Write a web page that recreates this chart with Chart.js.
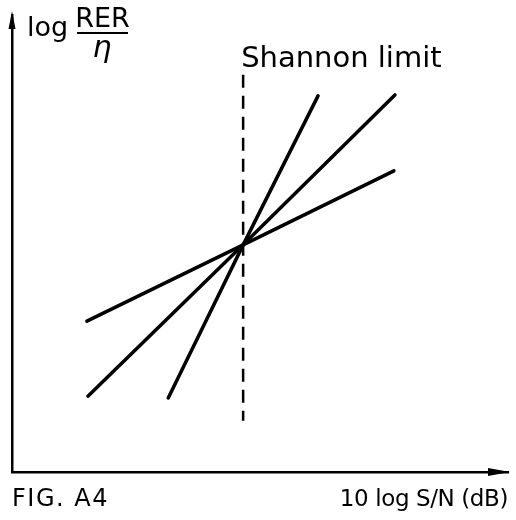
<!DOCTYPE html>
<html>
<head>
<meta charset="utf-8">
<script src="https://cdn.jsdelivr.net/npm/chart.js@4.4.1/dist/chart.umd.min.js"></script>
<style>
  html, body { margin: 0; padding: 0; background: #fff; }
  #wrap { width: 516px; height: 520px; }
</style>
</head>
<body>
<div id="wrap"><canvas id="chartFig"></canvas></div>
<script>
// valores (unidades arbitrarias 0..10)
const shannonX = 4.66;
const shannonY = [8.69, 1.12];

const lineaSuave = [[1.51, 3.30], [4.66, 4.97], [7.70, 6.59]];
const lineaMedia = [[1.53, 1.66], [4.66, 4.97], [7.72, 8.25]];
const lineaEmpinada = [[3.15, 1.62], [4.66, 4.97], [6.17, 8.23]];

const tituloShannon = "Shannon limit";
const etiquetaX = "10 log S/N (dB)";
const etiquetaFig = "FIG. A4";

const FUENTE = "DejaVu Sans";

function puntos(arr) {
    return arr.map(p => ({ x: p[0], y: p[1] }));
}

// flechas y textos
const textosPlugin = {
    id: "textos",
    afterDraw(chart) {
        const ctx = chart.ctx;
        const a = chart.chartArea;
        const sx = chart.scales.x;
        ctx.save();
        ctx.fillStyle = "#000";
        ctx.strokeStyle = "#000";

        // flecha eje y
        ctx.beginPath();
        ctx.moveTo(a.left, a.top - 4);
        ctx.lineTo(a.left - 3.5, a.top + 14);
        ctx.lineTo(a.left + 3.5, a.top + 14);
        ctx.closePath();
        ctx.fill();

        // flecha eje x
        ctx.beginPath();
        ctx.moveTo(a.right + 2, a.bottom);
        ctx.lineTo(a.right - 20, a.bottom - 4);
        ctx.lineTo(a.right - 20, a.bottom + 4);
        ctx.closePath();
        ctx.fill();

        ctx.textBaseline = "alphabetic";

        // log RER / eta
        ctx.font = "27px '" + FUENTE + "'";
        ctx.textAlign = "left";
        ctx.fillText("log", 27, 36);
        ctx.font = "27px '" + FUENTE + "'";
        ctx.textAlign = "center";
        ctx.fillText("RER", 102.5, 27);
        ctx.lineWidth = 2;
        ctx.beginPath();
        ctx.moveTo(77, 33);
        ctx.lineTo(128, 33);
        ctx.stroke();
        ctx.font = "italic 30px '" + FUENTE + "'";
        ctx.fillText("\u03B7", 102, 57);

        // Shannon limit
        ctx.font = "29px '" + FUENTE + "'";
        ctx.textAlign = "left";
        ctx.fillText(tituloShannon, sx.getPixelForValue(shannonX) - 2, 67);

        // textos inferiores
        ctx.font = "24px '" + FUENTE + "'";
        ctx.textAlign = "left";
        ctx.letterSpacing = "1.5px";
        ctx.fillText(etiquetaFig, 12, 506);
        ctx.font = "23px '" + FUENTE + "'";
        ctx.letterSpacing = "-0.4px";
        ctx.textAlign = "right";
        ctx.fillText(etiquetaX, 508, 506);
        ctx.restore();
    }
};

const estiloLinea = {
    borderColor: "#000",
    borderWidth: 3.5,
    pointRadius: 0,
    showLine: true,
    fill: false,
    borderCapStyle: "round",
    tension: 0
};

const ejeSinMarcas = {
    type: "linear",
    min: 0,
    max: 10,
    grid: { display: false, drawTicks: false, tickLength: 0 },
    ticks: { display: false, padding: 0 },
    border: { color: "#000", width: 2.5 }
};

new Chart(document.getElementById("chartFig"), {
    type: "scatter",
    data: {
        datasets: [
            Object.assign({ label: "a", data: puntos(lineaSuave) }, estiloLinea),
            Object.assign({ label: "b", data: puntos(lineaMedia) }, estiloLinea),
            Object.assign({ label: "c", data: puntos(lineaEmpinada) }, estiloLinea),
            Object.assign({}, estiloLinea, {
                label: "shannon",
                data: shannonY.map(v => ({ x: shannonX, y: v })),
                borderWidth: 2.5,
                borderDash: [13, 8],
                borderCapStyle: "butt"
            })
        ]
    },
    options: {
        responsive: true,
        maintainAspectRatio: false,
        animation: false,
        layout: {
            padding: { left: 12, right: 8, top: 15, bottom: 48 }
        },
        scales: {
            x: Object.assign({}, ejeSinMarcas),
            y: Object.assign({}, ejeSinMarcas)
        },
        plugins: {
            legend: { display: false },
            tooltip: { enabled: false }
        }
    },
    plugins: [textosPlugin]
});
</script>
</body>
</html>
